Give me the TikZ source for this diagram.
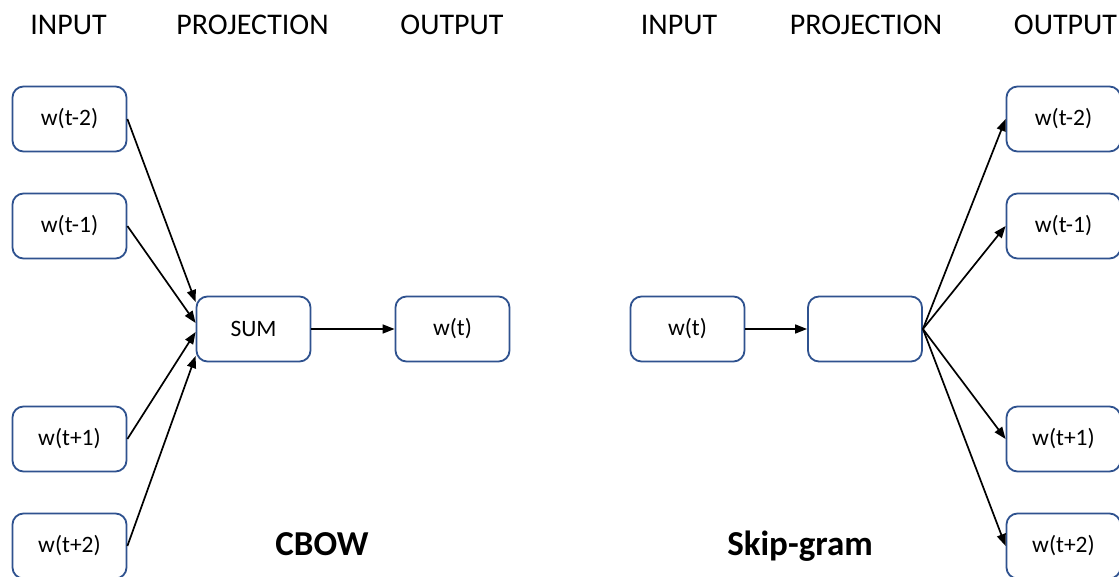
\documentclass[tikz,border=0pt]{standalone}
\usepackage{fontspec}
\setmainfont{Carlito}
\usetikzlibrary{arrows.meta,calc}
\definecolor{boxblue}{RGB}{47,82,143}
\tikzset{
  wbox/.style={draw=boxblue, line width=1.8pt, rounded corners=11pt, minimum width=114pt, minimum height=65pt, inner sep=0pt, font=\fontsize{23.5}{28}\selectfont},
  head/.style={font=\fontsize{30}{36}\selectfont, anchor=base, inner sep=0pt},
  title/.style={font=\fontsize{35}{42}\bfseries\selectfont, anchor=base, inner sep=0pt},
  conn/.style={line width=1.7pt, -{Triangle[length=12pt,width=9pt]}}
}
\begin{document}
\begin{tikzpicture}[x=1pt,y=-1pt]
\useasboundingbox[fill=white] (0,0) rectangle (1119,577);
% headers
\node[head] (h1) at (68.5,35) {INPUT};
\node[head] (h2) at (252.5,35) {PROJECTION};
\node[head] (h3) at (452,35) {OUTPUT};
\node[head] (h4) at (679,35) {INPUT};
\node[head] (h5) at (866,35) {PROJECTION};
\node[head] (h6) at (1065.5,35) {OUTPUT};
% CBOW
\node[wbox] (a1) at (69.5,119) {w(t-2)};
\node[wbox] (a2) at (69.5,226) {w(t-1)};
\node[wbox] (a3) at (69.5,439) {w(t+1)};
\node[wbox] (a4) at (69.5,546) {w(t+2)};
\node[wbox] (sum) at (253.5,329) {SUM};
\node[wbox] (out) at (452.5,329) {w(t)};
\draw[conn] (a1.east) -- ($(sum.west)+(0,-27)$);
\draw[conn] (a2.east) -- ($(sum.west)+(0,-6)$);
\draw[conn] (a3.east) -- ($(sum.west)+(0,3)$);
\draw[conn] (a4.east) -- ($(sum.west)+(0,27)$);
\draw[conn] (sum.east) -- (out.west);
\node[title] (cbow) at (322,555) {CBOW};
% Skip-gram
\node[wbox] (in) at (687.5,329) {w(t)};
\node[wbox] (proj) at (865,329) {};
\node[wbox] (b1) at (1063.5,119) {w(t-2)};
\node[wbox] (b2) at (1063.5,226) {w(t-1)};
\node[wbox] (b3) at (1063.5,439) {w(t+1)};
\node[wbox] (b4) at (1063.5,546) {w(t+2)};
\draw[conn] (in.east) -- (proj.west);
\draw[conn] (proj.east) -- (b1.west);
\draw[conn] (proj.east) -- (b2.west);
\draw[conn] (proj.east) -- (b3.west);
\draw[conn] (proj.east) -- (b4.west);
\node[title] (skip) at (800,555) {Skip-gram};
\end{tikzpicture}
\end{document}
